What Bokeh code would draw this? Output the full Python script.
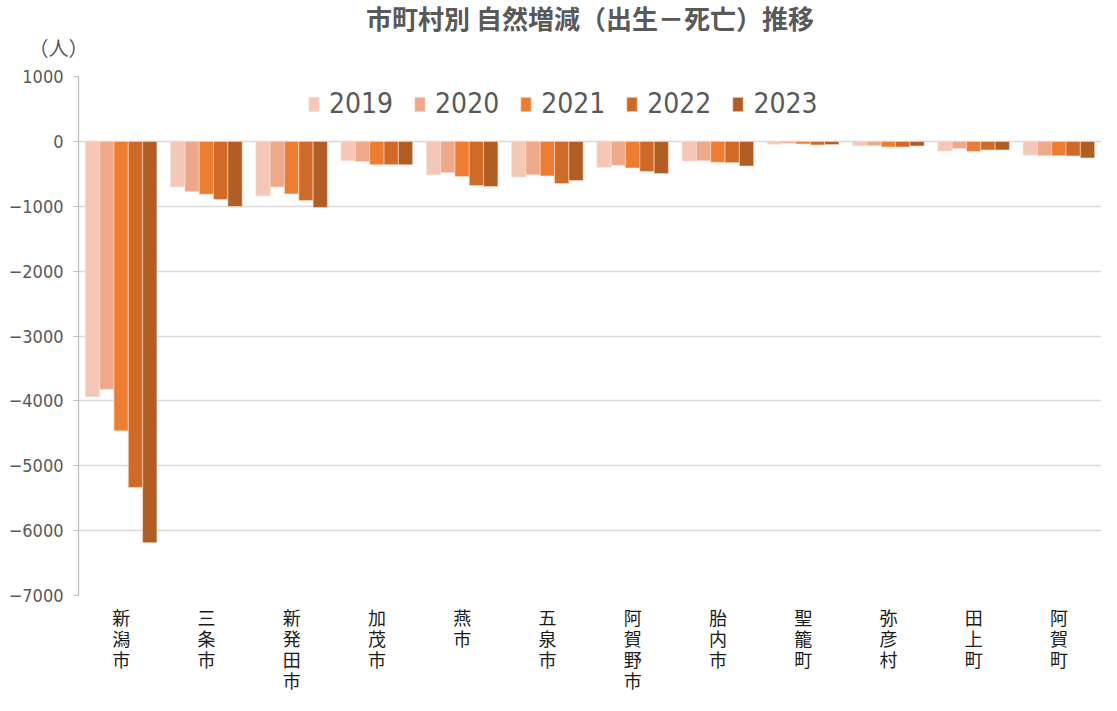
from bokeh.plotting import figure
from bokeh.models import (FactorRange, ColumnDataSource, Legend, LegendItem, FixedTicker, Range1d,
                          CategoricalAxis, Title, CustomJSTickFormatter)
from bokeh.transform import dodge
from bokeh.embed import file_html
from bokeh.resources import INLINE

cities = ["新潟市", "三条市", "新発田市", "加茂市", "燕市", "五泉市", "阿賀野市", "胎内市", "聖籠町", "弥彦村", "田上町", "阿賀町"]
years = ["2019", "2020", "2021", "2022", "2023"]
v2019 = [-3935, -703, -841, -297, -513, -549, -400, -303, -45, -66, -150, -210]
v2020 = [-3820, -775, -703, -312, -482, -513, -369, -297, -30, -66, -108, -220]
v2021 = [-4462, -815, -810, -359, -543, -533, -410, -323, -40, -87, -154, -220]
v2022 = [-5334, -897, -913, -359, -682, -651, -466, -328, -55, -87, -133, -225]
v2023 = [-6185, -1005, -1020, -362, -697, -605, -497, -380, -50, -72, -133, -256]
colors = ["#F5C7B6", "#F0A88B", "#ED7D31", "#D26A27", "#B25D22"]
yticks = [1000, 0, -1000, -2000, -3000, -4000, -5000, -6000, -7000]

src = ColumnDataSource(dict(city=cities, y2019=v2019, y2020=v2020, y2021=v2021, y2022=v2022, y2023=v2023))

NUMFONT = "DejaVu Sans Condensed, Roboto, Noto Sans CJK JP"
CJK = "Noto Sans CJK JP"

p = figure(x_range=FactorRange(*cities), y_range=Range1d(-7000, 1000),
           width=1101, height=695, output_backend="svg", toolbar_location=None,
           min_border_left=78, min_border_right=0, min_border_top=76, min_border_bottom=99)
p.title.text = "市町村別 自然増減（出生－死亡）推移"
p.title.align = "center"
p.title.vertical_align = "top"
p.title.text_font = CJK
p.title.text_font_size = "26px"
p.title.text_font_style = "bold"
p.title.text_color = "#595959"
p.title.standoff = -34

unit = Title(text="（人）", align="left", offset=-50, standoff=25, vertical_align="top",
             text_font=CJK, text_font_size="20px", text_font_style="normal", text_color="#595959")
p.add_layout(unit, "above")

w = 0.168
offs = [-2 * w, -w, 0, w, 2 * w]
items = []
for yr, c, o in zip(years, colors, offs):
    r = p.vbar(x=dodge("city", o, range=p.x_range), top="y" + yr, bottom=0, width=w, source=src,
               fill_color=c, line_color="#F8E0D6", line_width=0.6)
    items.append(LegendItem(label=yr, renderers=[r]))

leg = Legend(items=items, orientation="horizontal", location=(229, 475),
             label_text_font=NUMFONT, label_text_font_size="28px", label_text_color="#595959",
             glyph_width=13, glyph_height=18, spacing=20, label_standoff=9,
             border_line_color=None, background_fill_alpha=0, padding=2, margin=0)
p.add_layout(leg)

p.xgrid.grid_line_color = None
p.ygrid.grid_line_color = "#D9D9D9"
p.ygrid.grid_line_width = 1.3
p.outline_line_color = None

p.yaxis.ticker = FixedTicker(ticks=yticks)
p.yaxis.major_label_overrides = {t: (str(t).replace("-", "−")) for t in yticks}
p.yaxis.major_label_text_font = NUMFONT
p.yaxis.major_label_text_font_size = "18px"
p.yaxis.major_label_text_color = "#595959"
p.yaxis.major_label_standoff = 10
p.yaxis.axis_line_color = "#BFBFBF"
p.yaxis.axis_line_width = 1.3
p.yaxis.major_tick_line_color = "#BFBFBF"
p.yaxis.major_tick_out = 5
p.yaxis.major_tick_in = 0
p.yaxis.minor_tick_line_color = None

# category labels: one character per stacked axis row (vertical writing)
p.xaxis.visible = False
for j in range(max(len(c) for c in cities)):
    fmt = CustomJSTickFormatter(code=f"return tick.length > {j} ? tick.charAt({j}) : '';")
    ax = CategoricalAxis(formatter=fmt,
                         major_label_text_font=CJK, major_label_text_font_size="18px",
                         major_label_text_color="#1A1A1A",
                         major_label_standoff=(8 if j == 0 else -8),
                         axis_line_color=None, major_tick_line_color=None, minor_tick_line_color=None,
                         major_tick_out=0, major_tick_in=0)
    p.add_layout(ax, "below")

open("out.html", "w").write(file_html(p, INLINE))
